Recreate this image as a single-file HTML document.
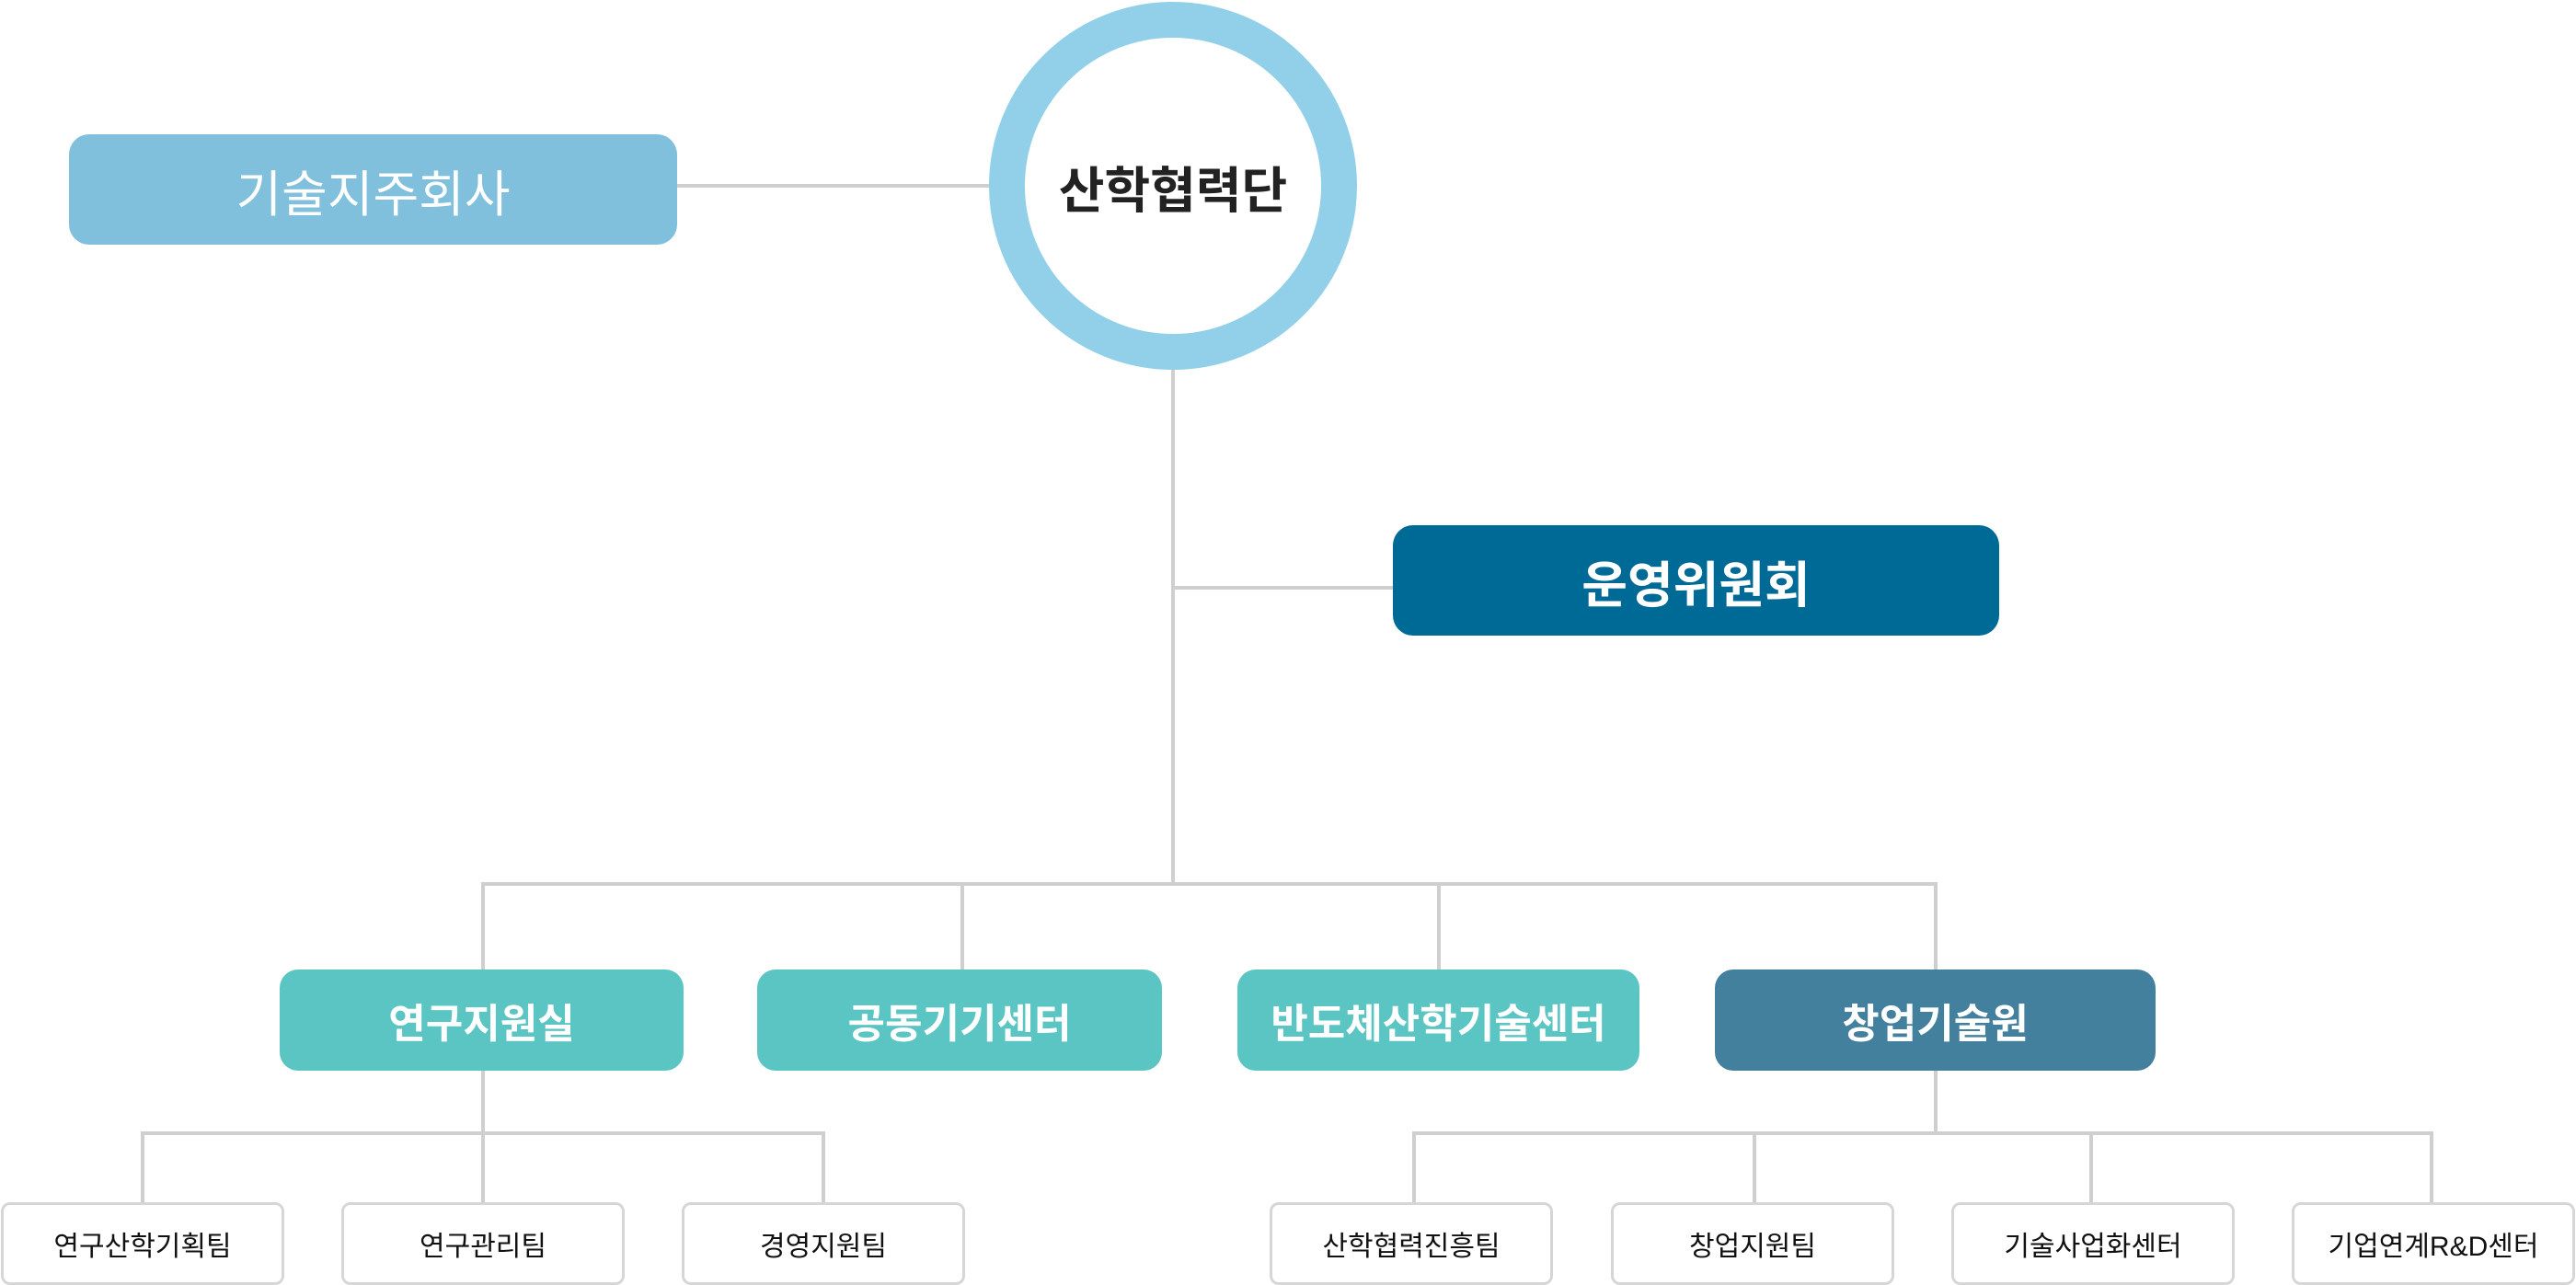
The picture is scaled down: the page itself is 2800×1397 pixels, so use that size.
<!DOCTYPE html>
<html><head><meta charset="utf-8"><style>
html,body{margin:0;padding:0;background:#fff}
body{width:2800px;height:1396px;position:relative;overflow:hidden;font-family:"Liberation Sans","Noto Sans CJK KR",sans-serif}
.l{position:absolute;background:#cfcfcf}
.b{position:absolute;display:flex;align-items:center;justify-content:center;color:#fff;box-sizing:border-box}
.m{border-radius:20px;font-size:44px;font-weight:bold;height:110px;top:1054px}
.leaf{background:#fff;border:3px solid #d6d6d6;border-radius:10px;color:#111;font-size:30px;top:1307px;height:90px;width:308px}
</style></head><body>
<!-- lines -->
<div class="l" style="left:736px;top:200px;width:340px;height:4px"></div>
<div class="l" style="left:1273px;top:400px;width:4px;height:563px"></div>
<div class="l" style="left:1275px;top:637px;width:240px;height:4px"></div>
<div class="l" style="left:523px;top:959px;width:1583px;height:4px"></div>
<div class="l" style="left:523px;top:959px;width:4px;height:96px"></div>
<div class="l" style="left:1044px;top:959px;width:4px;height:96px"></div>
<div class="l" style="left:1562px;top:959px;width:4px;height:96px"></div>
<div class="l" style="left:2102px;top:959px;width:4px;height:96px"></div>
<div class="l" style="left:523px;top:1164px;width:4px;height:144px"></div>
<div class="l" style="left:153px;top:1230px;width:744px;height:4px"></div>
<div class="l" style="left:153px;top:1230px;width:4px;height:78px"></div>
<div class="l" style="left:893px;top:1230px;width:4px;height:78px"></div>
<div class="l" style="left:2102px;top:1164px;width:4px;height:68px"></div>
<div class="l" style="left:1535px;top:1230px;width:1110px;height:4px"></div>
<div class="l" style="left:1535px;top:1230px;width:4px;height:78px"></div>
<div class="l" style="left:1905px;top:1230px;width:4px;height:78px"></div>
<div class="l" style="left:2271px;top:1230px;width:4px;height:78px"></div>
<div class="l" style="left:2641px;top:1230px;width:4px;height:78px"></div>
<!-- circle -->
<div class="b" style="left:1075px;top:2px;width:400px;height:400px;border-radius:50%;border:39px solid #92d0ea;background:#fff;color:#222;font-size:54px;font-weight:bold">산학협력단</div>
<div class="b" style="left:75px;top:146px;width:661px;height:120px;border-radius:22px;background:#80c0dc;font-size:54px">기술지주회사</div>
<div class="b" style="left:1514px;top:571px;width:659px;height:120px;border-radius:22px;background:#006a96;font-size:54px;font-weight:bold">운영위원회</div>
<div class="b m" style="left:304px;width:439px;background:#5bc5c3">연구지원실</div>
<div class="b m" style="left:823px;width:440px;background:#5bc5c3">공동기기센터</div>
<div class="b m" style="left:1345px;width:437px;background:#5bc5c3">반도체산학기술센터</div>
<div class="b m" style="left:1864px;width:479px;background:#42809e">창업기술원</div>
<div class="b leaf" style="left:1px">연구산학기획팀</div>
<div class="b leaf" style="left:371px">연구관리팀</div>
<div class="b leaf" style="left:741px">경영지원팀</div>
<div class="b leaf" style="left:1380px">산학협력진흥팀</div>
<div class="b leaf" style="left:1751px">창업지원팀</div>
<div class="b leaf" style="left:2121px">기술사업화센터</div>
<div class="b leaf" style="left:2491px">기업연계R&amp;D센터</div>
</body></html>
